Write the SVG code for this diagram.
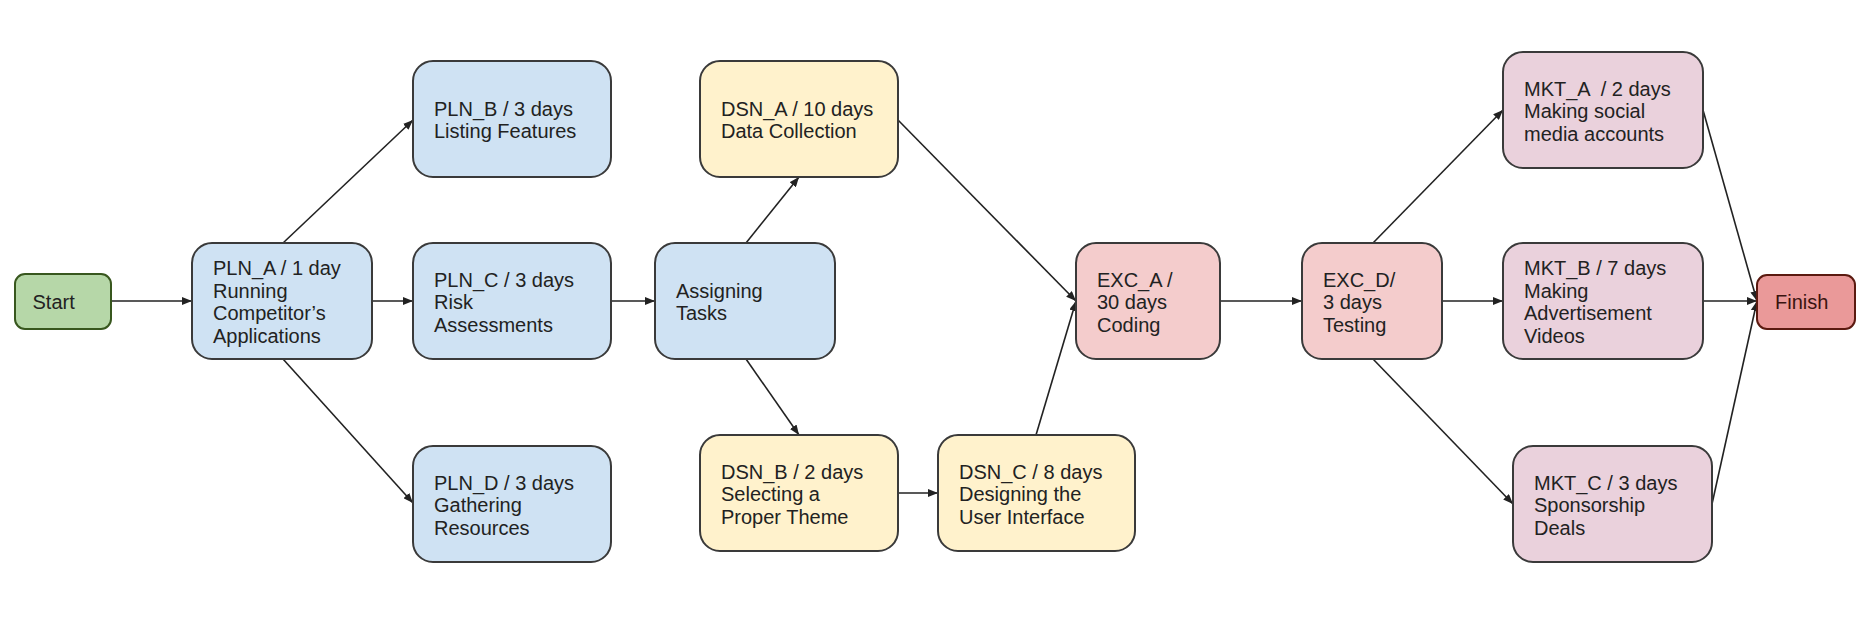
<svg xmlns="http://www.w3.org/2000/svg" width="1875" height="636" viewBox="0 0 1875 636">
<style>
.n{stroke:#3a3a3a;stroke-width:2}
.blue{fill:#cfe2f3}
.yel{fill:#fff2cc}
.red{fill:#f4cccc}
.mkt{fill:#ead1dc}
.start{fill:#b6d7a8;stroke:#38571e;stroke-width:2}
.fin{fill:#ea9999;stroke:#5b1a10;stroke-width:2}
text{font-family:"Liberation Sans",Arial,sans-serif;font-size:20px;fill:#222;white-space:pre}
.fin-t{fill:#3a1410}
.c{stroke:#222;stroke-width:1.6;fill:none;marker-end:url(#ah)}
</style>
<defs>
<marker id="ah" markerUnits="userSpaceOnUse" markerWidth="10" markerHeight="8" refX="10" refY="4" orient="auto">
<path d="M0,0 L10,4 L0,8 z" fill="#222"/>
</marker>
</defs>
<rect width="1875" height="636" fill="#ffffff"/>
<g id="connectors">
<path class="c" d="M111 301 L192 301"/>
<path class="c" d="M283 243 L413 120"/>
<path class="c" d="M372 301 L413 301"/>
<path class="c" d="M283 359 L413 503"/>
<path class="c" d="M611 301 L655 301"/>
<path class="c" d="M746 243 L799 177"/>
<path class="c" d="M746 359 L799 435"/>
<path class="c" d="M898 120 L1076 301"/>
<path class="c" d="M898 493 L938 493"/>
<path class="c" d="M1036 435 L1076 301"/>
<path class="c" d="M1220 301 L1302 301"/>
<path class="c" d="M1373 243 L1503 110"/>
<path class="c" d="M1442 301 L1503 301"/>
<path class="c" d="M1373 359 L1513 504"/>
<path class="c" d="M1703 110 L1757 301"/>
<path class="c" d="M1703 301 L1757 301"/>
<path class="c" d="M1712 504 L1757 301"/>
</g>
<g id="start"><rect class="start" x="15" y="274" width="96" height="55" rx="10"/><text x="32.5" y="309">Start</text></g>
<g id="pln_a"><rect class="n blue" x="192" y="243" width="180" height="116" rx="20"/><text x="213" y="275.25">PLN_A / 1 day<tspan x="213" dy="22.5">Running</tspan><tspan x="213" dy="22.5">Competitor’s</tspan><tspan x="213" dy="22.5">Applications</tspan></text></g>
<g id="pln_b"><rect class="n blue" x="413" y="61" width="198" height="116" rx="20"/><text x="434" y="115.75">PLN_B / 3 days<tspan x="434" dy="22.5">Listing Features</tspan></text></g>
<g id="pln_c"><rect class="n blue" x="413" y="243" width="198" height="116" rx="20"/><text x="434" y="286.5">PLN_C / 3 days<tspan x="434" dy="22.5">Risk</tspan><tspan x="434" dy="22.5">Assessments</tspan></text></g>
<g id="pln_d"><rect class="n blue" x="413" y="446" width="198" height="116" rx="20"/><text x="434" y="489.5">PLN_D / 3 days<tspan x="434" dy="22.5">Gathering</tspan><tspan x="434" dy="22.5">Resources</tspan></text></g>
<g id="assigning"><rect class="n blue" x="655" y="243" width="180" height="116" rx="20"/><text x="676" y="297.75">Assigning<tspan x="676" dy="22.5">Tasks</tspan></text></g>
<g id="dsn_a"><rect class="n yel" x="700" y="61" width="198" height="116" rx="20"/><text x="721" y="115.75">DSN_A / 10 days<tspan x="721" dy="22.5">Data Collection</tspan></text></g>
<g id="dsn_b"><rect class="n yel" x="700" y="435" width="198" height="116" rx="20"/><text x="721" y="478.5">DSN_B / 2 days<tspan x="721" dy="22.5">Selecting a</tspan><tspan x="721" dy="22.5">Proper Theme</tspan></text></g>
<g id="dsn_c"><rect class="n yel" x="938" y="435" width="197" height="116" rx="20"/><text x="959" y="478.5">DSN_C / 8 days<tspan x="959" dy="22.5">Designing the</tspan><tspan x="959" dy="22.5">User Interface</tspan></text></g>
<g id="exc_a"><rect class="n red" x="1076" y="243" width="144" height="116" rx="20"/><text x="1097" y="286.5">EXC_A /<tspan x="1097" dy="22.5">30 days</tspan><tspan x="1097" dy="22.5">Coding</tspan></text></g>
<g id="exc_d"><rect class="n red" x="1302" y="243" width="140" height="116" rx="20"/><text x="1323" y="286.5">EXC_D/<tspan x="1323" dy="22.5">3 days</tspan><tspan x="1323" dy="22.5">Testing</tspan></text></g>
<g id="mkt_a"><rect class="n mkt" x="1503" y="52" width="200" height="116" rx="20"/><text x="1524" y="95.5">MKT_A  / 2 days<tspan x="1524" dy="22.5">Making social</tspan><tspan x="1524" dy="22.5">media accounts</tspan></text></g>
<g id="mkt_b"><rect class="n mkt" x="1503" y="243" width="200" height="116" rx="20"/><text x="1524" y="275.25">MKT_B / 7 days<tspan x="1524" dy="22.5">Making</tspan><tspan x="1524" dy="22.5">Advertisement</tspan><tspan x="1524" dy="22.5">Videos</tspan></text></g>
<g id="mkt_c"><rect class="n mkt" x="1513" y="446" width="199" height="116" rx="20"/><text x="1534" y="489.5">MKT_C / 3 days<tspan x="1534" dy="22.5">Sponsorship</tspan><tspan x="1534" dy="22.5">Deals</tspan></text></g>
<g id="finish"><rect class="fin" x="1757" y="275" width="98" height="54" rx="10"/><text class="fin-t" x="1775" y="309">Finish</text></g>
</svg>
